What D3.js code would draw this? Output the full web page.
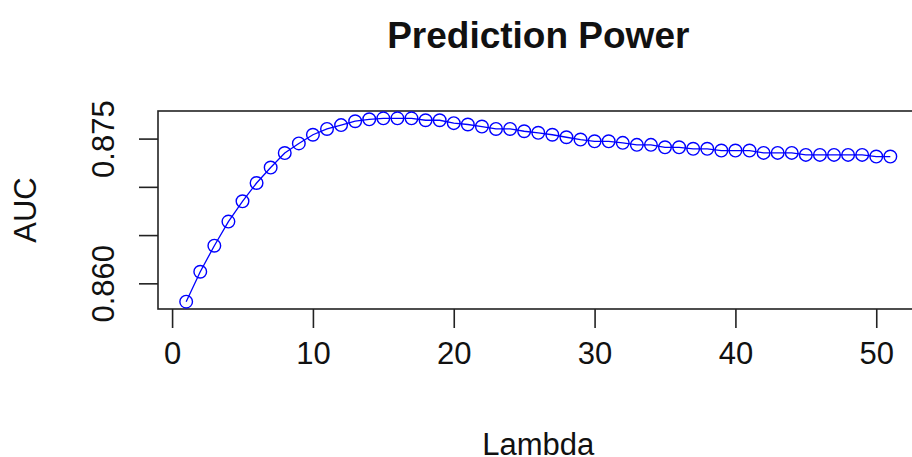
<!DOCTYPE html>
<html lang="en">
<head>
  <meta charset="UTF-8">
  <title>Prediction Power</title>
  <style>
    body { margin: 0; background: #fff; }
    svg { display: block; font-family: Arial, "Liberation Sans", sans-serif; }
    .axis path { display: none; }
    .axis line { stroke: #222; stroke-width: 1.6; }
    .axis text { font-size: 31px; fill: #111; }
    .title { font-size: 37px; font-weight: bold; fill: #111; text-anchor: middle; }
    .label { font-size: 31px; fill: #111; text-anchor: middle; }
  </style>
</head>
<body>
  <svg width="912" height="457"></svg>
  <script src="https://cdn.jsdelivr.net/npm/d3@7"></script>
  <script>
    // lambda index and AUC
    var lambda = d3.range(1, 52)
    var auc = [
      0.8581, 0.8612, 0.8639, 0.8664, 0.8685, 0.8704, 0.8720, 0.8735, 0.8745, 0.8754,
      0.8760, 0.8764, 0.8768, 0.8770, 0.8771, 0.8771, 0.8771, 0.8769, 0.8769, 0.8766,
      0.87646, 0.87625, 0.8760, 0.8760, 0.87576, 0.8756, 0.8754, 0.87514, 0.8749, 0.87472,
      0.87472, 0.87456, 0.87435, 0.87435, 0.8741, 0.8741, 0.87394, 0.87394, 0.87376, 0.87376,
      0.87376, 0.87352, 0.87352, 0.87352, 0.87331, 0.87331, 0.87331, 0.87331, 0.87331, 0.87314,
      0.87314
    ]
    var xTicks = [0, 10, 20, 30, 40, 50]
    var yTicks = [0.860, 0.865, 0.870, 0.875]
    var yTickLabels = ['0.860', '', '', '0.875']

    var svg = d3.select('svg')
    var plotLeft = 158, plotRight = 918.5, plotTop = 111, plotBottom = 309

    // R style 4% padding around the data range
    function padded(ext) {
      var p = (ext[1] - ext[0]) * 0.04
      return [ext[0] - p, ext[1] + p]
    }

    var x = d3.scaleLinear().domain(padded(d3.extent(lambda))).range([plotLeft, plotRight])
    var y = d3.scaleLinear().domain(padded(d3.extent(auc))).range([plotBottom, plotTop])

    var data = lambda.map(function(d, i) { return { x: d, y: auc[i] } })

    svg.append('g')
      .attr('class', 'axis')
      .attr('transform', 'translate(0,' + plotBottom + ')')
      .call(d3.axisBottom(x).tickValues(xTicks).tickSize(19).tickPadding(14).tickFormat(d3.format('d')))

    svg.append('g')
      .attr('class', 'axis yaxis')
      .attr('transform', 'translate(' + plotLeft + ',0)')
      .call(d3.axisLeft(y).tickValues(yTicks).tickSize(19)
        .tickFormat(function(d, i) { return yTickLabels[i] }))

    svg.selectAll('.yaxis .tick text')
      .attr('transform', 'translate(-44,0) rotate(-90)')
      .attr('x', 0)
      .attr('dy', 0)
      .attr('text-anchor', 'middle')

    svg.append('rect')
      .attr('x', plotLeft).attr('y', plotTop)
      .attr('width', plotRight - plotLeft).attr('height', plotBottom - plotTop)
      .attr('fill', 'none').attr('stroke', '#222').attr('stroke-width', 1.6)

    var line = d3.line()
      .x(function(d) { return x(d.x) })
      .y(function(d) { return y(d.y) })

    svg.append('path')
      .datum(data)
      .attr('d', line)
      .attr('fill', 'none')
      .attr('stroke', '#0000ff')
      .attr('stroke-width', 1.3)

    svg.selectAll('circle')
      .data(data)
      .enter()
      .append('circle')
      .attr('cx', function(d) { return x(d.x) })
      .attr('cy', function(d) { return y(d.y) })
      .attr('r', 6.3)
      .attr('fill', 'none')
      .attr('stroke', '#0000ff')
      .attr('stroke-width', 1.4)

    svg.append('text')
      .attr('class', 'title')
      .attr('x', (plotLeft + plotRight) / 2)
      .attr('y', 48)
      .text('Prediction Power')

    svg.append('text')
      .attr('class', 'label')
      .attr('x', (plotLeft + plotRight) / 2)
      .attr('y', 455)
      .text('Lambda')

    svg.append('text')
      .attr('class', 'label')
      .attr('transform', 'translate(36,' + (plotTop + plotBottom) / 2 + ') rotate(-90)')
      .text('AUC')
  </script>
</body>
</html>
